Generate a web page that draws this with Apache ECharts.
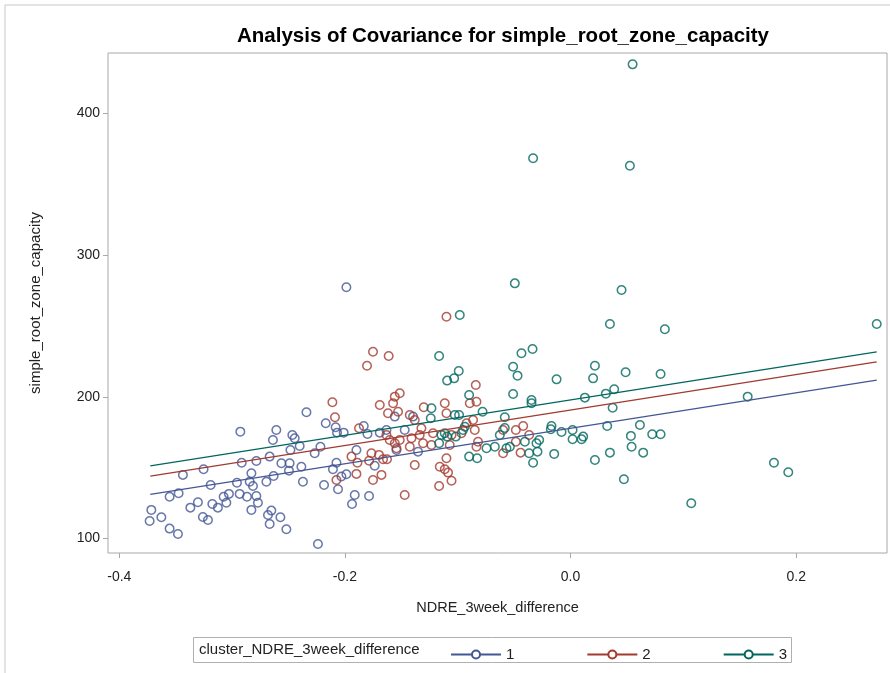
<!DOCTYPE html>
<html>
<head>
<meta charset="utf-8">
<script src="https://cdn.jsdelivr.net/npm/echarts@6/dist/echarts.min.js"></script>
<style>html,body{margin:0;padding:0;background:#fff}#c{width:890px;height:673px}</style>
</head>
<body>
<div id="c"></div>
<script>
const titleText = 'Analysis of Covariance for simple_root_zone_capacity';
const xName = 'NDRE_3week_difference';
const yName = 'simple_root_zone_capacity';
const legendTitle = 'cluster_NDRE_3week_difference';
const clusterNames = ['1', '2', '3'];
const xTicks = [-0.4, -0.2, 0.0, 0.2];
const yTicks = [100, 200, 300, 400];

const cluster1 = [[-0.3716,120.2],[-0.3731,112.4],[-0.3627,115.0],[-0.3554,107.0],[-0.3480,103.2],[-0.3554,129.5],[-0.3474,131.9],[-0.3436,144.9],[-0.3253,148.9],[-0.3370,121.8],[-0.3303,125.6],[-0.3259,115.2],[-0.3214,113.1],[-0.3190,137.8],[-0.3175,124.4],[-0.3126,121.8],[-0.3075,129.5],[-0.3028,131.5],[-0.3051,125.3],[-0.2957,139.4],[-0.2933,131.5],[-0.2927,175.4],[-0.2915,153.5],[-0.2829,146.0],[-0.2844,140.1],[-0.2815,137.1],[-0.2868,129.5],[-0.2785,130.0],[-0.2771,125.3],[-0.2829,120.2],[-0.2785,154.7],[-0.2696,140.1],[-0.2667,157.8],[-0.2652,119.7],[-0.2682,116.6],[-0.2667,110.3],[-0.2632,144.1],[-0.2638,169.5],[-0.2608,176.6],[-0.2572,115.0],[-0.2519,106.6],[-0.2563,153.1],[-0.2490,153.1],[-0.2496,147.9],[-0.2483,162.5],[-0.2466,173.1],[-0.2445,170.7],[-0.2401,165.3],[-0.2386,150.7],[-0.2372,140.1],[-0.2341,189.1],[-0.2268,160.2],[-0.2217,164.8],[-0.2239,96.2],[-0.2185,137.8],[-0.2170,181.3],[-0.2106,148.9],[-0.2075,153.5],[-0.2082,178.5],[-0.2070,174.7],[-0.2011,174.7],[-0.2061,134.8],[-0.2031,143.7],[-0.1987,145.3],[-0.1913,130.7],[-0.1937,124.4],[-0.1898,162.5],[-0.1833,179.4],[-0.1800,173.8],[-0.1786,130.0],[-0.1736,151.4],[-0.1691,174.7],[-0.1632,176.6],[-0.1558,186.0],[-0.1470,176.6],[-0.1396,186.0],[-0.1543,162.5],[-0.1352,161.3],[-0.1987,277.2]];

const cluster2 = [[-0.1100,256.5],[-0.1751,231.8],[-0.1804,221.9],[-0.1612,228.8],[-0.2111,196.1],[-0.2088,185.5],[-0.1942,157.8],[-0.1889,153.5],[-0.1875,177.8],[-0.1898,145.6],[-0.2075,141.3],[-0.1751,141.3],[-0.1676,144.9],[-0.1765,160.2],[-0.1698,159.0],[-0.1662,155.9],[-0.1627,155.9],[-0.1786,154.9],[-0.1691,194.2],[-0.1618,188.4],[-0.1573,195.4],[-0.1558,200.1],[-0.1514,202.5],[-0.1529,189.5],[-0.1603,169.5],[-0.1558,167.2],[-0.1514,169.5],[-0.1632,173.1],[-0.1543,163.7],[-0.1425,164.8],[-0.1410,170.7],[-0.1425,187.2],[-0.1381,183.6],[-0.1322,177.8],[-0.1301,192.6],[-0.1337,173.1],[-0.1307,167.2],[-0.1233,166.0],[-0.1219,174.3],[-0.1470,130.7],[-0.1381,151.9],[-0.1115,195.4],[-0.1100,188.4],[-0.1159,150.7],[-0.1100,156.6],[-0.1115,148.9],[-0.1086,146.5],[-0.1055,140.8],[-0.1165,137.1],[-0.1071,166.0],[-0.1055,173.1],[-0.0967,174.3],[-0.0922,181.3],[-0.0893,195.4],[-0.0834,196.5],[-0.0840,208.3],[-0.0849,176.6],[-0.0820,168.3],[-0.0834,164.8],[-0.0864,183.6],[-0.0598,176.6],[-0.0485,176.6],[-0.0420,179.4],[-0.0367,173.1],[-0.0485,168.3],[-0.0598,160.2],[-0.0443,160.6]];

const cluster3 = [[0.0550,434.5],[-0.0332,368.2],[0.0526,363.0],[-0.0494,280.0],[0.0452,275.3],[0.0349,251.3],[0.0836,247.6],[0.2714,251.3],[-0.0982,257.7],[-0.1165,228.8],[-0.1094,211.4],[-0.1032,213.0],[-0.0991,218.2],[-0.0899,201.3],[-0.1233,191.9],[-0.1239,184.8],[-0.1026,187.2],[-0.0988,187.2],[-0.0780,189.5],[-0.1144,173.1],[-0.1115,174.3],[-0.1094,171.9],[-0.1165,167.2],[-0.1017,171.9],[-0.0937,178.9],[-0.0953,176.6],[-0.0899,157.8],[-0.0828,156.6],[-0.0745,163.7],[-0.0671,164.8],[-0.0627,173.1],[-0.0435,230.7],[-0.0337,233.7],[-0.0509,221.2],[-0.0470,214.9],[0.0216,221.9],[0.0200,213.0],[-0.0124,212.3],[0.0488,217.3],[0.0798,216.1],[-0.0509,202.0],[-0.0346,197.7],[-0.0346,195.4],[0.0127,199.4],[0.0313,202.2],[0.0387,205.3],[0.0373,192.3],[0.1570,200.1],[-0.0583,185.5],[-0.0583,178.0],[-0.0568,163.7],[-0.0538,164.8],[-0.0405,168.3],[-0.0367,160.2],[-0.0332,153.5],[-0.0293,161.3],[-0.0302,167.2],[-0.0278,169.5],[-0.0175,177.1],[-0.0169,179.4],[-0.0080,175.2],[-0.0145,159.7],[0.0018,176.6],[0.0018,170.0],[0.0112,171.9],[0.0098,170.0],[0.0216,155.4],[0.0325,179.4],[0.0349,160.6],[0.0473,141.8],[0.0535,172.4],[0.0541,164.8],[0.0615,180.1],[0.0644,160.6],[0.0724,173.6],[0.0798,173.6],[0.1070,124.9],[0.1803,153.5],[0.1930,146.8]];

// fitted ANCOVA lines: x endpoints and y endpoints per cluster
const fitX = [-0.3725, 0.2714];
const fit1 = [131.2, 211.7];
const fit2 = [144.1, 224.6];
const fit3 = [151.2, 231.7];

const colors = ['#445694', '#A23A2E', '#01665E'];
const FONT = '"Liberation Sans", Arial, sans-serif';

const clusters = [cluster1, cluster2, cluster3];
const fits = [fit1, fit2, fit3];

const series = [];
clusterNames.forEach((n, i) => {
  series.push({
    type: 'line', name: n,
    data: fitX.map((x, k) => [x, fits[i][k]]),
    symbol: 'emptyCircle', showSymbol: false, silent: true,
    lineStyle: { color: colors[i], width: 1.3 },
    itemStyle: { color: colors[i] },
    z: 3
  });
});
clusterNames.forEach((n, i) => {
  series.push({
    type: 'scatter', name: n,
    data: clusters[i],
    symbol: 'circle', symbolSize: 8.5,
    itemStyle: { color: 'rgba(0,0,0,0)', borderColor: colors[i], borderWidth: 1.5 },
    z: 2
  });
});

const chart = echarts.init(document.getElementById('c'), null, { renderer: 'canvas' });
chart.setOption({
  animation: false,
  backgroundColor: '#fff',
  title: {
    text: titleText, left: 498, top: 21, textAlign: 'center',
    textStyle: { fontFamily: FONT, fontSize: 20.5, fontWeight: 'bold', color: '#000' }
  },
  grid: { left: 108, right: 3, top: 53, bottom: 120, show: true, borderColor: '#a8a8a8', borderWidth: 1 },
  xAxis: {
    type: 'value', min: -0.41, max: 0.2805,
    name: xName, nameLocation: 'middle', nameGap: 47,
    nameTextStyle: { fontFamily: FONT, fontSize: 14.5, color: '#222' },
    axisLine: { show: false, onZero: false },
    splitLine: { show: false },
    axisTick: { show: true, length: 5, lineStyle: { color: '#a8a8a8' }, customValues: xTicks },
    axisLabel: { fontFamily: FONT, fontSize: 14, color: '#222', margin: 17, customValues: xTicks,
      formatter: v => Number(v).toFixed(1) }
  },
  yAxis: {
    type: 'value', min: 89.8, max: 442.5,
    name: yName, nameLocation: 'middle', nameGap: 65, nameRotate: 90,
    nameTextStyle: { fontFamily: FONT, fontSize: 15, color: '#222' },
    axisLine: { show: false, onZero: false },
    splitLine: { show: false },
    axisTick: { show: true, length: 5, lineStyle: { color: '#a8a8a8' }, customValues: yTicks },
    axisLabel: { fontFamily: FONT, fontSize: 14, color: '#222', margin: 8, customValues: yTicks }
  },
  legend: {
    data: clusterNames, left: 445, top: 642,
    itemWidth: 50, itemHeight: 10, itemGap: 72,
    textStyle: { fontFamily: FONT, fontSize: 15, color: '#222' },
    selectedMode: false
  },
  graphic: [
    { type: 'polyline', silent: true, shape: { points: [[5, 680], [5, 5], [895, 5]] },
      style: { stroke: '#c8c8c8', lineWidth: 1, fill: null } },
    { type: 'rect', silent: true, shape: { x: 193.5, y: 637.5, width: 598, height: 25 },
      style: { stroke: '#b0b0b0', lineWidth: 1, fill: null } },
    { type: 'text', silent: true, x: 199, y: 650,
      style: { text: legendTitle, font: '15px ' + FONT, fill: '#222', textVerticalAlign: 'middle', verticalAlign: 'middle' } }
  ],
  series: series
});
</script>
</body>
</html>
